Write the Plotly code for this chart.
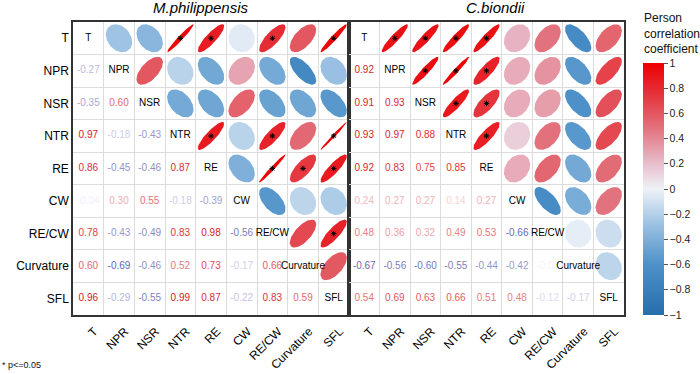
import numpy as np
import plotly.graph_objects as go

variables = ["T", "NPR", "NSR", "NTR", "RE", "CW", "RE/CW", "Curvature", "SFL"]

# Lower-triangle correlations: row i holds r(variables[i], variables[j]) for j < i
mp_lower = [
    [],
    [-0.27],
    [-0.35, 0.60],
    [0.97, -0.18, -0.43],
    [0.86, -0.45, -0.46, 0.87],
    [-0.04, 0.30, 0.55, -0.18, -0.39],
    [0.78, -0.43, -0.49, 0.83, 0.98, -0.56],
    [0.60, -0.69, -0.46, 0.52, 0.73, -0.17, 0.66],
    [0.96, -0.29, -0.55, 0.99, 0.87, -0.22, 0.83, 0.59],
]
cb_lower = [
    [],
    [0.92],
    [0.91, 0.93],
    [0.93, 0.97, 0.88],
    [0.92, 0.83, 0.75, 0.85],
    [0.24, 0.27, 0.27, 0.14, 0.27],
    [0.48, 0.36, 0.32, 0.49, 0.53, -0.66],
    [-0.67, -0.56, -0.60, -0.55, -0.44, -0.42, -0.03],
    [0.54, 0.69, 0.63, 0.66, 0.51, 0.48, -0.12, -0.17],
]
# significant pairs (p <= 0.05)
mp_sig = [("T", "NTR"), ("T", "RE"), ("T", "RE/CW"), ("T", "SFL"),
          ("NTR", "RE"), ("NTR", "RE/CW"), ("NTR", "SFL"),
          ("RE", "RE/CW"), ("RE", "Curvature"), ("RE", "SFL"),
          ("RE/CW", "SFL")]
cb_sig = [("T", "NPR"), ("T", "NSR"), ("T", "NTR"), ("T", "RE"),
          ("NPR", "NSR"), ("NPR", "NTR"), ("NPR", "RE"),
          ("NSR", "NTR"), ("NSR", "RE"), ("NTR", "RE")]

panel_titles = ["M.philippensis", "C.biondii"]
cbar_ticks = [1, 0.8, 0.6, 0.4, 0.2, 0, -0.2, -0.4, -0.6, -0.8, -1]

# colour scale for ellipses / colorbar
stops_r = [-1.0, -0.6, -0.3, 0.0, 0.2, 0.5, 0.8, 1.0]
stops_c = [(38, 110, 172), (77, 145, 200), (150, 190, 225), (238, 242, 248),
           (232, 190, 205), (226, 110, 120), (230, 40, 48), (238, 0, 0)]


def ell_color(r):
    c = [np.interp(r, stops_r, [s[k] for s in stops_c]) for k in range(3)]
    return "rgb(%d,%d,%d)" % tuple(int(round(v)) for v in c)


def text_color(r):
    a = abs(r) ** 0.85
    end = (212, 20, 28) if r >= 0 else (42, 42, 154)
    c = [255 - a * (255 - e) for e in end]
    return "rgb(%d,%d,%d)" % tuple(int(round(v)) for v in c)


n = len(variables)
W, H = 700, 374
dom_x = [[73 / W, 349 / W], [349 / W, 624 / W]]
dom_y = [1 - 315 / H, 1 - 22 / H]
title_x = [201 / W, 495 / W]
font = "Liberation Sans, Arial, sans-serif"

fig = go.Figure()
S = 0.86
kk = np.linspace(0, 2 * np.pi, 72)

for p, (lower, sig) in enumerate([(mp_lower, mp_sig), (cb_lower, cb_sig)]):
    xa = "x" if p == 0 else "x2"
    ya = "y" if p == 0 else "y2"
    # ellipses in the upper triangle
    for i in range(n):
        for j in range(i + 1, n):
            r = lower[j][i]
            d = np.arccos(r)
            cx, cy = j + 1, n - i
            ex = cx + S * np.cos(kk + d / 2) / 2
            ey = cy + S * np.cos(kk - d / 2) / 2
            fig.add_trace(go.Scatter(x=ex, y=ey, xaxis=xa, yaxis=ya, mode="lines",
                                     fill="toself", fillcolor=ell_color(r),
                                     line=dict(width=0, color=ell_color(r)),
                                     hoverinfo="skip", showlegend=False))
    # stars
    sx = [variables.index(b) + 1 for a, b in sig]
    sy = [n - variables.index(a) for a, b in sig]
    fig.add_trace(go.Scatter(x=sx, y=sy, xaxis=xa, yaxis=ya, mode="markers",
                             marker=dict(symbol="asterisk-open", size=4.5, color="black",
                                         line=dict(width=1, color="black")),
                             hoverinfo="skip", showlegend=False))
    # numbers in the lower triangle
    tx, ty, tt, tc = [], [], [], []
    for i in range(n):
        for j in range(i):
            r = lower[i][j]
            tx.append(j + 1)
            ty.append(n - i)
            tt.append("%.2f" % r)
            tc.append(text_color(r))
    fig.add_trace(go.Scatter(x=tx, y=ty, xaxis=xa, yaxis=ya, mode="text", text=tt,
                             textfont=dict(size=10, color=tc, family=font),
                             hoverinfo="skip", showlegend=False))
    # diagonal labels
    fig.add_trace(go.Scatter(x=list(range(1, n + 1)), y=[n - i for i in range(n)],
                             xaxis=xa, yaxis=ya, mode="text", text=variables,
                             textfont=dict(size=10, color="black", family=font),
                             hoverinfo="skip", showlegend=False))
    fig.add_annotation(x=title_x[p], y=1 - 8 / H, xref="paper", yref="paper",
                       xanchor="center", yanchor="middle",
                       text="<i>%s</i>" % panel_titles[p], showarrow=False,
                       font=dict(size=15, color="black", family=font))

# colorbar holder
fig.add_trace(go.Scatter(x=[1], y=[1], mode="markers", hoverinfo="skip", showlegend=False,
                         marker=dict(size=1, opacity=0, color=[0], cmin=-1, cmax=1,
                                     colorscale=[[(r + 1) / 2, "rgb(%d,%d,%d)" % c]
                                                 for r, c in zip(stops_r, stops_c)],
                                     showscale=True,
                                     colorbar=dict(x=643 / W, xanchor="left", xref="paper",
                                                   y=1 - 315 / H, yanchor="bottom",
                                                   len=(315 - 63) / H, lenmode="fraction",
                                                   thickness=21, thicknessmode="pixels",
                                                   outlinewidth=0, xpad=0, ypad=0,
                                                   tickvals=cbar_ticks,
                                                   ticktext=[("%g" % t).replace("-", "\u2212") for t in cbar_ticks],
                                                   ticks="outside", ticklen=4, tickcolor="#555",
                                                   tickfont=dict(size=10.5, color="#222", family=font)))))

fig.add_annotation(x=642 / W, y=1 - 9 / H, xref="paper", yref="paper", xanchor="left",
                   yanchor="top", align="left", showarrow=False,
                   text="Person<br>correlation<br>coefficient",
                   font=dict(size=12, color="#111", family=font))
fig.add_annotation(x=0, y=1 - 365 / H, xref="paper", yref="paper", xanchor="left",
                   yanchor="middle", showarrow=False, text="* p<=0.05",
                   font=dict(size=9, color="#111", family=font))

axis_common = dict(range=[0.5, n + 0.5], tickvals=list(range(1, n + 1)), showgrid=False,
                   zeroline=False, showline=True, mirror=True, linecolor="#333",
                   linewidth=1.5, ticks="", fixedrange=True, automargin=False,
                   minor=dict(tickmode="linear", tick0=0.5, dtick=1, showgrid=True,
                              gridcolor="#dcdcdc", gridwidth=1, ticklen=0),
                   tickfont=dict(size=12, color="black", family=font))
xtick_extra = dict(ticktext=variables, tickangle=-45, ticklabelshift=6, ticklabelstandoff=3)

fig.update_layout(
    width=W, height=H, margin=dict(l=0, r=0, t=0, b=0, pad=0, autoexpand=False),
    paper_bgcolor="white", plot_bgcolor="white", showlegend=False,
    xaxis=dict(axis_common, domain=dom_x[0], **xtick_extra),
    xaxis2=dict(axis_common, domain=dom_x[1], anchor="y2", **xtick_extra),
    yaxis=dict(axis_common, domain=dom_y, ticktext=variables[::-1]),
    yaxis2=dict(axis_common, domain=dom_y, ticktext=variables[::-1], showticklabels=False,
                anchor="x2"),
)

fig.write_html("out.html", config={"displayModeBar": False},
               post_script="document.body.style.margin='0';document.body.style.overflow='hidden';")
